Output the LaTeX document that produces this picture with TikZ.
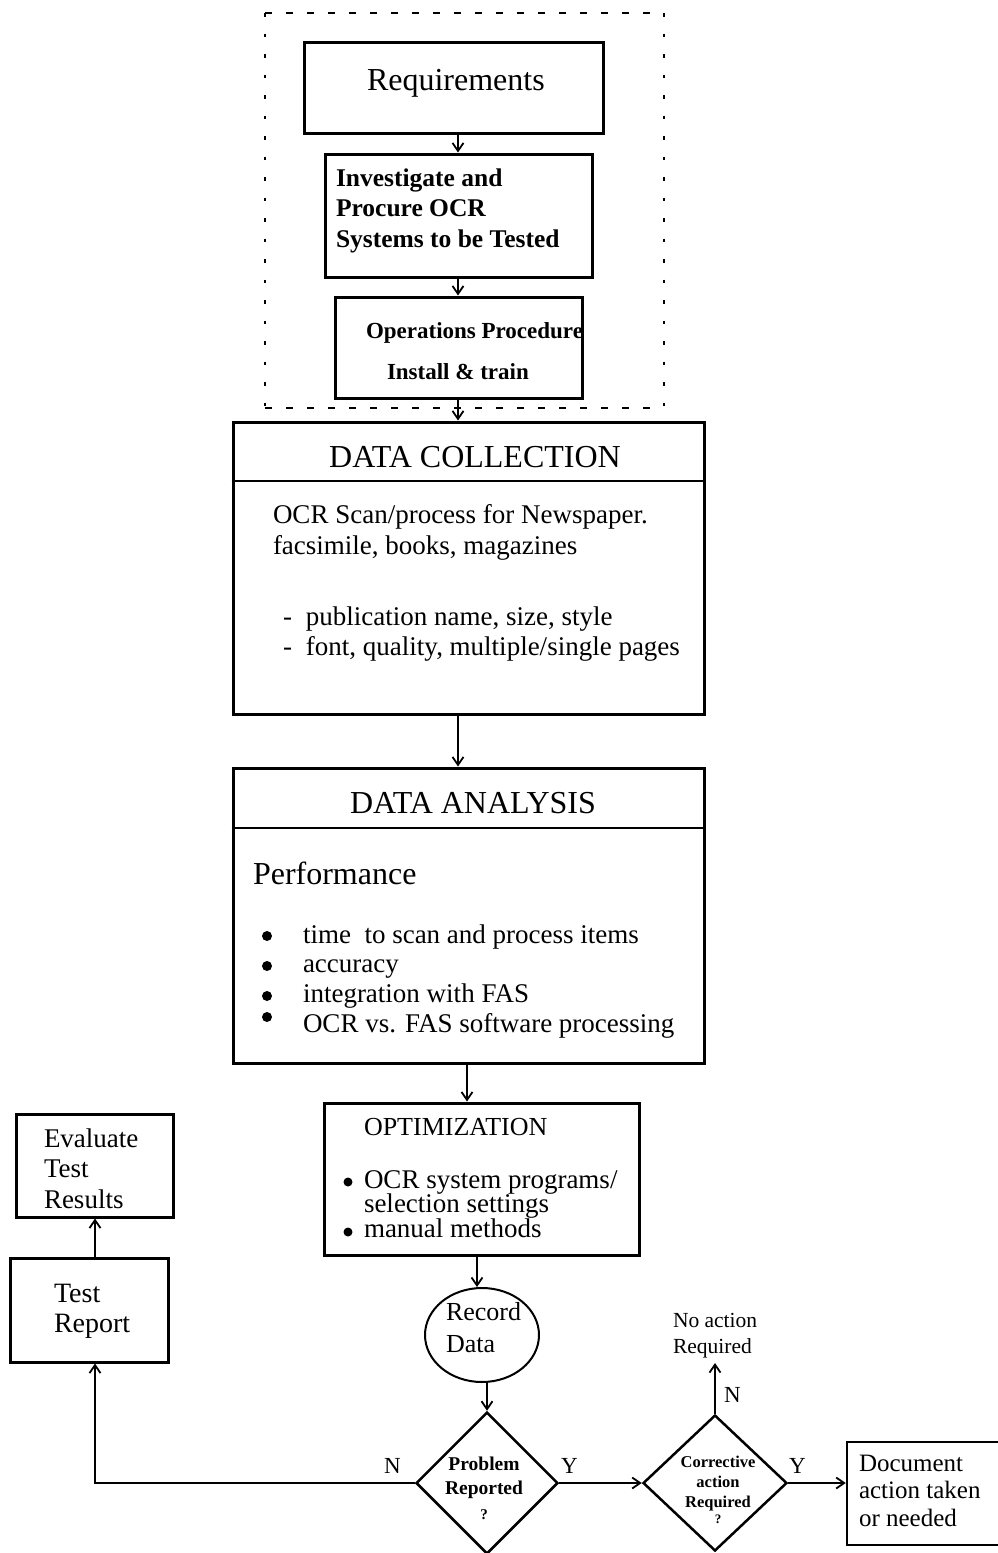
\documentclass[tikz,border=0pt]{standalone}
\usepackage{fontspec}
\setmainfont{Liberation Serif}
\usetikzlibrary{arrows.meta,shapes.geometric}
% stacked lines whose base anchor is the first line's baseline
\newcommand{\leftlines}[1]{\begin{tabular}[t]{@{}l@{}}#1\end{tabular}}
\newcommand{\centerlines}[1]{\begin{tabular}[t]{@{}c@{}}#1\end{tabular}}
\newcommand{\fsz}[2]{\fontsize{#1}{#2}\selectfont}
\begin{document}
\begin{tikzpicture}[x=1pt,y=-1pt,
  box/.style={draw, rectangle, line width=3pt, inner sep=0pt},
  txt/.style={anchor=base west, inner sep=0pt, outer sep=0pt},
  ctxt/.style={anchor=base, inner sep=0pt, outer sep=0pt},
  arr/.style={line width=1.8pt, -{Straight Barb[length=8pt,width=11pt,line width=1.8pt]}},
  bullet/.style={circle, fill, inner sep=0pt, minimum size=10pt},
  decision/.style={draw, diamond, line width=2.5pt, inner sep=0pt},
  frameh/.style={line width=2pt, dash pattern=on 7pt off 14pt},
  framev/.style={line width=2pt, dash pattern=on 3.5pt off 17pt},
]
\useasboundingbox (0,0) rectangle (998,1553);
\fill[white] (0,0) rectangle (998,1553);

% dotted frame around the preparation steps
\draw[frameh] (265,13) -- (664,13);
\draw[frameh] (265,408) -- (664,408);
\draw[framev] (265,13) -- (265,408);
\draw[framev] (664,13) -- (664,408);

% boxes
\node[box, minimum width=299pt, minimum height=91pt] (req) at (453.5,87.5) {};
\node[box, minimum width=267pt, minimum height=123pt] (inv) at (458.5,215.5) {};
\node[box, minimum width=247pt, minimum height=101pt] (ops) at (458.5,347.5) {};
\node[box, minimum width=471pt, minimum height=292pt] (dc) at (468.5,568) {};
\node[box, minimum width=471pt, minimum height=295pt] (da) at (468.5,915.5) {};
\node[box, minimum width=315pt, minimum height=152pt] (opt) at (481.5,1179) {};
\node[box, minimum width=157pt, minimum height=103pt] (ev) at (94.5,1165.5) {};
\node[box, minimum width=158pt, minimum height=104pt] (tr) at (89,1310) {};
\node[draw, ellipse, line width=2pt, inner sep=0pt, minimum width=114pt, minimum height=94pt] (rec) at (482,1335) {};
\node[decision, minimum width=142pt, minimum height=142pt] (prob) at (487,1483) {};
\node[decision, minimum width=144pt, minimum height=136pt] (corr) at (715,1483) {};
\node[box, line width=2.5pt, minimum width=155pt, minimum height=103pt] (doc) at (924.5,1493.5) {};

% header dividers
\coordinate (dcdiv) at (0,481);
\coordinate (dadiv) at (0,828);
\draw[line width=2.5pt] (dc.west |- dcdiv) -- (dc.east |- dcdiv);
\draw[line width=2.5pt] (da.west |- dadiv) -- (da.east |- dadiv);

% texts
\node[txt, font=\fsz{32}{36}] (reqt) at (367,90) {Requirements};
\node[txt, font=\bfseries\fsz{25.5}{30.5}] (invt) at (336,186)
  {\leftlines{Investigate and\\Procure OCR\\Systems to be Tested}};
\node[txt, font=\bfseries\fsz{23}{26}] (opst1) at (366,338) {Operations Procedure};
\node[txt, font=\bfseries\fsz{23}{26}] (opst2) at (387,379) {Install \& train};

\node[ctxt, font=\fsz{32}{36}] (dct) at (475,467) {DATA COLLECTION};
\node[txt, font=\fsz{27}{31}] (dcb1) at (273,523)
  {\leftlines{OCR Scan/process for Newspaper.\\facsimile, books, magazines}};
\node[txt, font=\fsz{27}{30}] (dcb2) at (283,625)
  {\leftlines{\makebox[23pt][l]{-}publication name, size, style\\\makebox[23pt][l]{-}font, quality, multiple/single pages}};

\node[ctxt, font=\fsz{32}{36}] (dat) at (473,813) {DATA ANALYSIS};
\node[txt, font=\fsz{32}{36}] (perf) at (253,884) {Performance};
\node[txt, font=\fsz{27}{29.7}] (dab) at (303,943)
  {\leftlines{time\ \ to scan and process items\\accuracy\\integration with FAS\\OCR vs. FAS software processing}};
\node[bullet] (da1) at (267,936) {};
\node[bullet] (da2) at (267,966) {};
\node[bullet] (da3) at (267,996) {};
\node[bullet] (da4) at (267,1017) {};

\node[txt, font=\fsz{26}{30}] (optt) at (364,1135) {OPTIMIZATION};
\node[txt, font=\fsz{27}{18}] (opt1) at (364,1188)
  {\leftlines{OCR system programs/\\selection settings}};
\node[txt, font=\fsz{27}{30}] (opt2) at (364,1237) {manual methods};
\node[bullet, minimum size=9pt] (ob1) at (348,1182) {};
\node[bullet, minimum size=9pt] (ob2) at (348,1232) {};

\node[txt, font=\fsz{27}{30.5}] (evt) at (44,1147) {\leftlines{Evaluate\\Test\\Results}};
\node[txt, font=\fsz{28}{30}] (trt) at (54,1302) {\leftlines{Test\\Report}};
\node[txt, font=\fsz{26}{32}] (rect) at (446,1320) {\leftlines{Record\\Data}};

\node[ctxt, font=\bfseries\fsz{19.5}{24.5}] (probt) at (484,1470)
  {\centerlines{Problem\\Reported\\{\fsz{15}{15}?}}};
\node[ctxt, font=\bfseries\fsz{16.5}{20}] (corrt) at (718,1467)
  {\centerlines{Corrective\\action\\Required\\[-4pt]{\fsz{13}{13}?}}};

\node[txt, font=\fsz{21.5}{26}] (nat) at (673,1327) {\leftlines{No action\\Required}};
\coordinate (na) at (715,1363);
\node[txt, font=\fsz{25}{27.5}] (doct) at (859,1471) {\leftlines{Document\\action taken\\or needed}};

\node[txt, font=\fsz{23}{23}] (pn) at (384,1473) {N};
\node[txt, font=\fsz{23}{23}] (py) at (561,1473) {Y};
\node[txt, font=\fsz{23}{23}] (cn) at (724,1402) {N};
\node[txt, font=\fsz{23}{23}] (cy) at (789,1473) {Y};

% connectors
\coordinate (xa) at (458,0);
\coordinate (xb) at (467,0);
\coordinate (xc) at (477,0);
\coordinate (xd) at (95,0);
\draw[arr] (req.south -| xa) -- (inv.north -| xa);
\draw[arr] (inv.south -| xa) -- (ops.north -| xa);
\draw[arr] (ops.south -| xa) -- (dc.north -| xa);
\draw[arr] (dc.south -| xa) -- (da.north -| xa);
\draw[arr] (da.south -| xb) -- (opt.north -| xb);
\draw[arr] (opt.south -| xc) -- (rec.north -| xc);
\draw[arr] (rec.south -| prob.north) -- (prob.north);
\draw[arr] (prob.west) -| (tr.south -| xd);
\draw[arr] (tr.north -| xd) -- (ev.south -| xd);
\draw[arr] (prob.east) -- (corr.west);
\draw[arr] (corr.north) -- (na);
\draw[arr] (corr.east) -- (corr.east -| doc.west);
\end{tikzpicture}
\end{document}
